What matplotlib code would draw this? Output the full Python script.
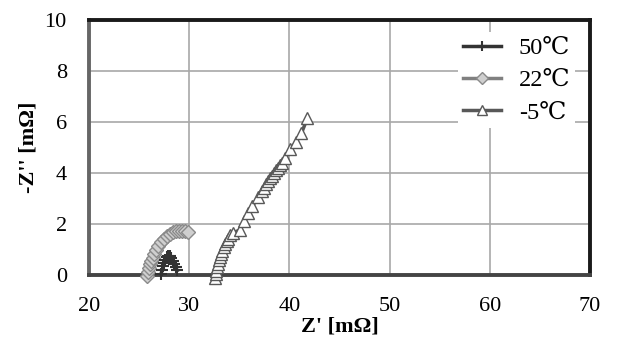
import matplotlib
matplotlib.use("Agg")
import matplotlib.pyplot as plt

plt.rcParams['font.family'] = ['Liberation Serif', 'DejaVu Serif']

# Nyquist data, Z' and -Z'' in mOhm
x50 = [27.2, 27.3, 27.4, 27.5, 27.6, 27.75, 27.9, 28.05, 28.2, 28.35, 28.5, 28.65, 28.8]
y50 = [0.05, 0.2, 0.35, 0.48, 0.6, 0.7, 0.76, 0.74, 0.66, 0.55, 0.42, 0.3, 0.18]

x22 = [25.8, 25.9, 26.0, 26.1, 26.2, 26.35, 26.5, 26.7, 26.9, 27.2, 27.5, 27.8,
       28.1, 28.4, 28.7, 29.0, 29.3, 29.6, 29.9]
y22 = [-0.05, 0.12, 0.28, 0.42, 0.55, 0.68, 0.82, 0.98, 1.12, 1.28, 1.42, 1.53,
       1.62, 1.68, 1.72, 1.74, 1.74, 1.72, 1.68]

xm5 = [32.6, 32.65, 32.7, 32.8, 32.9, 33.0, 33.1, 33.2, 33.3, 33.45, 33.6, 33.75,
       33.9, 34.1, 34.4, 35.1, 35.5, 35.9, 36.3, 36.9, 37.3, 37.5, 37.7, 37.9,
       38.1, 38.3, 38.5, 38.7, 38.9, 39.1, 39.3, 39.6, 40.1, 40.7, 41.2, 41.8]
ym5 = [-0.1, 0.05, 0.15, 0.3, 0.45, 0.58, 0.7, 0.82, 0.95, 1.08, 1.2, 1.32,
       1.42, 1.55, 1.65, 1.78, 2.1, 2.43, 2.7, 3.06, 3.3, 3.42, 3.55, 3.67,
       3.8, 3.9, 4.0, 4.1, 4.2, 4.3, 4.4, 4.6, 4.93, 5.23, 5.56, 6.15]

labels = ['50\u2103', '22\u2103', '-5\u2103']
xticks = [20, 30, 40, 50, 60, 70]
yticks = [0, 2, 4, 6, 8, 10]

fig = plt.figure(figsize=(6.18, 3.52), dpi=100)
ax = fig.add_axes([89/618, 77/352, 501/618, 255/352])

ax.plot(x50, y50, color='#333333', lw=2.5, marker='+', ms=9, mew=1.5,
        mec='#333333', label=labels[0], zorder=4, clip_on=False)
ax.plot(x22, y22, color='#808080', lw=2.5, marker='D', ms=7.5, mfc='#cfcfcf',
        mec='#8a8a8a', mew=1.0, label=labels[1], zorder=3, clip_on=False)
ax.plot(xm5, ym5, color='#585858', lw=2.5, marker='^', ms=9, mfc='white',
        mec='#585858', mew=1.0, label=labels[2], zorder=3, clip_on=False)

ax.set_xlim(20, 70)
ax.set_ylim(0, 10)
ax.set_xticks(xticks)
ax.set_yticks(yticks)
ax.tick_params(length=0, labelsize=16)
ax.tick_params(axis='x', pad=16)
ax.tick_params(axis='y', pad=16)
ax.grid(True, color='#a8a8a8', lw=1.2)
ax.set_axisbelow(True)

for side in ['top', 'right']:
    ax.spines[side].set_color('#1a1a1a')
    ax.spines[side].set_linewidth(2.8)
ax.spines['left'].set_color('#666666')
ax.spines['left'].set_linewidth(2.8)
ax.spines['bottom'].set_color('#444444')
ax.spines['bottom'].set_linewidth(2.8)

ax.set_xlabel("Z' [m\u03a9]", fontsize=16, fontweight='bold', labelpad=0)
ax.set_ylabel("-Z'' [m\u03a9]", fontsize=16, fontweight='bold', labelpad=4)

leg = ax.legend(loc='upper right', bbox_to_anchor=(0.995, 1.0), fontsize=17.5,
                frameon=True, framealpha=1, edgecolor='none', handlelength=1.55,
                labelspacing=0.42, borderpad=0.2, handletextpad=0.75,
                markerscale=0.85)
leg.get_frame().set_linewidth(0)

fig.savefig('out.png', dpi=100)
